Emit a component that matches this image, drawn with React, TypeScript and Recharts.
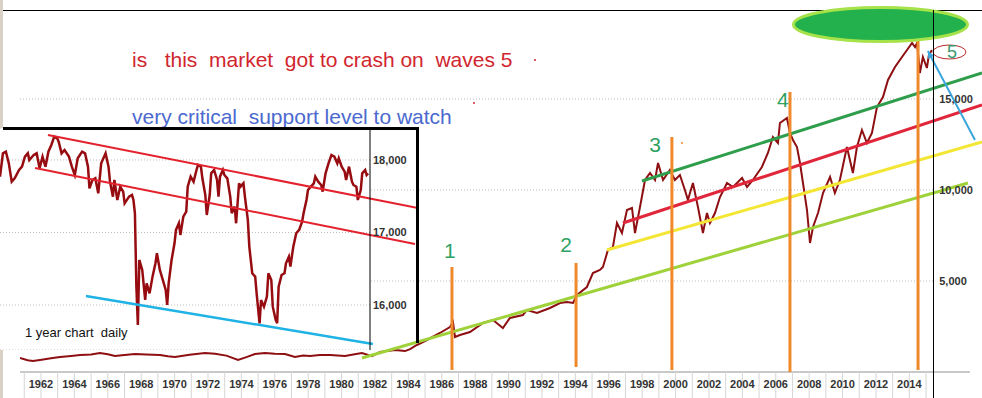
import { LineChart, Line, XAxis, YAxis, ReferenceLine, ReferenceDot, CartesianGrid } from 'recharts'

// Dow Jones, long-term view (year, index level)
const mainYears = [
  1960.74, 1961.2, 1961.52, 1961.94, 1962.6, 1963.14, 1963.8, 1964.34, 1965.0, 1965.53,
  1966.0, 1966.43, 1967.0, 1967.63, 1968.3, 1969.13, 1969.6, 1970.02, 1970.9, 1971.82,
  1972.42, 1973.1, 1973.8, 1974.3, 1974.81, 1975.41, 1976.0, 1976.61, 1977.21, 1977.7,
  1978.11, 1978.7, 1979.31, 1980.2, 1980.7, 1981.22, 1981.82, 1982.3, 1983.2, 1983.8, 1984.1,
  1984.51, 1985.11, 1985.89, 1986.49, 1986.67, 1986.79, 1987.09, 1987.69, 1988.47, 1989.07,
  1989.66, 1990.08, 1990.86, 1991.1, 1991.7, 1992.48, 1993.08, 1993.5, 1993.86, 1994.1,
  1994.69, 1995.05, 1995.47, 1995.65, 1995.95, 1996.25, 1996.49, 1996.79, 1997.09, 1997.39,
  1997.57, 1997.87, 1998.17, 1998.47, 1998.77, 1998.95, 1999.25, 1999.66, 1999.96, 2000.26,
  2000.56, 2000.74, 2001.04, 2001.34, 2001.64, 2001.88, 2002.06, 2002.36, 2002.66, 2003.08,
  2003.44, 2003.98, 2004.28, 2004.63, 2005.17, 2005.53, 2005.83, 2006.13, 2006.25, 2006.67,
  2006.85, 2007.03, 2007.27, 2007.45, 2007.63, 2007.87, 2008.05, 2008.23, 2008.53, 2008.83,
  2009.25, 2009.54, 2009.84, 2010.26, 2010.62, 2010.86, 2011.16, 2011.46, 2011.76, 2012.06,
  2012.42, 2012.72, 2013.14, 2013.56, 2013.86, 2014.16, 2014.34, 2014.46, 2014.63, 2014.81,
  2015.05, 2015.17, 2015.35,
]
const mainValues = [
  770, 650, 600, 660, 760, 820, 880, 930, 960, 1040,
  980, 880, 940, 990, 960, 930, 860, 820, 950, 1040,
  1000, 900, 660, 820, 990, 1040, 1000, 990, 820, 900,
  880, 930, 930, 880, 960, 1040, 870, 1100, 1210, 1150, 1260,
  1484, 1758, 2143, 2473, 2747, 1923, 2033, 2198, 2692, 2857,
  2418, 2967, 3132, 3407, 3242, 3516, 3791, 3846, 3791, 4231,
  4670, 5440, 5604, 5769, 6703, 6868, 8187, 7637, 8901, 9011,
  7637, 9066, 10549, 10934, 10549, 11484, 10549, 11099, 10549, 10824,
  10000, 9451, 10385, 9066, 7637, 8736, 8187, 8736, 9615, 10385,
  10165, 10659, 10165, 10549, 11264, 12033, 12912, 12582, 13681, 13956,
  13132, 12747, 12363, 11484, 10385, 8901, 7088, 7967, 8736, 9835,
  10714, 9835, 10549, 12363, 10934, 12363, 13297, 12582, 13132, 14560,
  15110, 16044, 16758, 17308, 17692, 18077, 17857, 18077, 16429, 17308,
  16703, 17418, 17692,
]

// inset: one year of daily closes (trading day, level)
const insetDays = [
  0, 2, 4, 6, 8, 10, 13, 15, 17, 19, 20, 23, 25, 27, 29, 31, 33, 35, 37, 39,
  40, 42, 44, 47, 49, 51, 53, 56, 58, 60, 61, 63, 65, 67, 69, 72, 74, 75, 77, 78,
  80, 82, 84, 85, 88, 90, 91, 92, 93, 94, 95, 97, 99, 100, 102, 104, 106, 107, 109, 111,
  113, 114, 115, 117, 119, 120, 122, 123, 125, 127, 128, 130, 132, 134, 135, 137, 138, 140, 141, 143,
  144, 146, 148, 149, 150, 152, 153, 155, 157, 158, 160, 161, 163, 164, 166, 167, 169, 170, 172, 174,
  175, 177, 178, 180, 182, 183, 185, 186, 188, 189, 190, 192, 194, 195, 197, 198, 200, 201, 202, 204,
  206, 207, 209, 210, 212, 214, 215, 217, 219, 220, 222, 224, 226, 228, 230, 231, 233, 235, 236, 238,
  240, 241, 243, 244, 246, 247, 249, 250, 251,
]
const insetValues = [
  17770, 18092, 18115, 17954, 17701, 17747, 17862, 17908, 18046, 18092,
  18000, 18069, 18092, 17885, 18046, 17908, 18115, 18207, 18322, 18299,
  18253, 18092, 18138, 18046, 17908, 17793, 18023, 18115, 18092, 17908,
  17609, 17724, 17747, 17540, 17954, 18092, 17908, 17701, 17494, 17724,
  17448, 17632, 17563, 17402, 17494, 17517, 17448, 17265, 16253, 15724,
  16621, 16483, 16069, 16299, 16161, 16391, 16575, 16713, 16483, 16345,
  16207, 16000, 16299, 16621, 16851, 17035, 17127, 16966, 17219, 17287,
  17632, 17770, 17701, 17862, 17931, 17908, 17747, 17517, 17241, 17517,
  17816, 17862, 17724, 17494, 17770, 17862, 17793, 17747, 17494, 17265,
  17357, 17127, 17678, 17632, 17678, 17494, 17173, 16805, 16437, 16391,
  16161, 15747, 16069, 15977, 16115, 16437, 16345, 15977, 15793, 15747,
  16253, 16414, 16437, 16575, 16667, 16529, 16805, 16897, 16989, 17035,
  17150, 17265, 17448, 17586, 17632, 17678, 17770, 17701, 17655, 17563,
  17816, 17954, 18069, 18046, 17954, 18023, 17908, 17839, 17724, 17908,
  17701, 17655, 17632, 17448, 17586, 17816, 17862, 17793, 17816,
]

const yearTicks = [
  1961, 1962, 1963, 1964, 1965, 1966, 1967, 1968, 1969, 1970, 1971, 1972, 1973, 1974,
  1975, 1976, 1977, 1978, 1979, 1980, 1981, 1982, 1983, 1984, 1985, 1986, 1987, 1988,
  1989, 1990, 1991, 1992, 1993, 1994, 1995, 1996, 1997, 1998, 1999, 2000, 2001, 2002,
  2003, 2004, 2005, 2006, 2007, 2008, 2009, 2010, 2011, 2012, 2013, 2014, 2015,
]
const priceTicks = [5000, 10000, 15000]
const insetTicks = [16000, 17000, 18000]

// wave annotations
const waveNames = ['1', '2', '3', '4']
const waveLabelYears = [1986.49, 1993.44, 1998.77, 2006.43]
const waveLabelValues = [6703, 6978, 12527, 14945]
const markerYears = [1986.61, 1994.04, 1999.78, 2006.85, 2014.52]
const markerTops = [5769, 5989, 12912, 15385, 18681]
const markerBottoms = [110, 275, 110, 0, 110]

// channel lines: [year1, value1, year2, value2]
const channels = [
  [1981.22, 769, 2017.51, 10385],
  [1995.89, 6703, 2018.35, 12637],
  [1996.85, 8187, 2018.35, 14670],
  [1997.99, 10495, 2018.35, 16429],
]
const channelColors = ['#9fd23a', '#f3e634', '#e0263a', '#2f9e4c']
const arrowLine = [2017.93, 12747, 2015.11, 17637]

// inset channel lines: [day1, value1, day2, value2]
const insetChannels = [
  [32.7, 18345, 285, 17338],
  [23.9, 17890, 283, 16841],
]
const insetSupport = [58.6, 16124, 254.3, 15462]

const mainData = mainYears.map((year, i) => ({ year, value: mainValues[i] }))
const insetData = insetDays.map((day, i) => ({ day, value: insetValues[i] }))

const FONT = '"Liberation Sans", Arial, sans-serif'
const X_DOMAIN: [number, number] = [1960.743, 2018.35]
const AXIS_END = 2017.63
const RIGHT_AXIS = 2015.55

function YearTick(props: any) {
  const { x, y, payload } = props
  const yr = payload.value
  return (
    <g>
      <line x1={x} x2={x} y1={y} y2={y + 26} stroke="#d6d6d6" />
      {yr % 2 === 0 && (
        <text x={x} y={y + 16} textAnchor="middle" fontSize={11} fontWeight="bold" fill="#333" fontFamily={FONT}>
          {yr}
        </text>
      )}
    </g>
  )
}

function ArrowShape(p: any) {
  const { x1, y1, x2, y2 } = p
  const a = Math.atan2(y2 - y1, x2 - x1)
  const len = 8
  const pA = [x2 - len * Math.cos(a - 0.45), y2 - len * Math.sin(a - 0.45)]
  const pB = [x2 - len * Math.cos(a + 0.45), y2 - len * Math.sin(a + 0.45)]
  return (
    <g>
      <line x1={x1} y1={y1} x2={x2} y2={y2} stroke="#3aa6dc" strokeWidth={2} />
      <polygon points={`${x2},${y2} ${pA[0]},${pA[1]} ${pB[0]},${pB[1]}`} fill="#3aa6dc" />
    </g>
  )
}

export default function App() {
  return (
    <div style={{ position: 'fixed', left: 0, top: 0, width: 982, height: 398, background: '#fff', overflow: 'hidden', fontFamily: FONT }}>
      <div style={{ position: 'absolute', left: 0, top: 0, width: 3, height: 398, background: '#d9d1c4' }} />
      <div style={{ position: 'absolute', left: 3, top: 10, width: 979, height: 1, background: '#000' }} />

      <div style={{ position: 'absolute', left: 0, top: 0 }}>
        <LineChart width={982} height={398} data={mainData} margin={{ top: 10, right: 0, left: 20, bottom: 0 }}>
          <XAxis
            dataKey="year"
            type="number"
            domain={X_DOMAIN}
            ticks={yearTicks}
            interval={0}
            axisLine={false}
            tickLine={false}
            tickSize={0}
            tickMargin={0}
            height={26}
            tick={<YearTick />}
            allowDataOverflow
          />
          <YAxis hide domain={[0, 19890]} allowDataOverflow />
          {priceTicks.map(v => (
            <ReferenceLine
              key={v}
              segment={[{ x: X_DOMAIN[0], y: v }, { x: RIGHT_AXIS, y: v }]}
              stroke="#bdbdbd"
              strokeDasharray="1 2"
              label={{ value: v.toLocaleString('en-US'), position: 'right', offset: 4, fontSize: 11, fontWeight: 'bold', fill: '#333' }}
            />
          ))}
          <ReferenceLine segment={[{ x: X_DOMAIN[0], y: 0 }, { x: AXIS_END, y: 0 }]} stroke="#c9c9c9" strokeWidth={2} />
          <Line dataKey="value" type="linear" stroke="#8e0f12" strokeWidth={2} dot={false} isAnimationActive={false} />
          {channels.map((c, i) => (
            <ReferenceLine key={i} segment={[{ x: c[0], y: c[1] }, { x: c[2], y: c[3] }]} stroke={channelColors[i]} strokeWidth={3} ifOverflow="visible" />
          ))}
          {markerYears.map((yr, i) => (
            <ReferenceLine key={yr} segment={[{ x: yr, y: markerTops[i] }, { x: yr, y: markerBottoms[i] }]} stroke="#f0892b" strokeWidth={3} />
          ))}
          {waveNames.map((n, i) => (
            <ReferenceDot
              key={n}
              x={waveLabelYears[i]}
              y={waveLabelValues[i]}
              r={0}
              shape={(p: any) => (
                <text x={p.cx} y={p.cy} textAnchor="middle" dominantBaseline="central" fontSize={21} fill="#2ea264" fontFamily={FONT}>{n}</text>
              )}
            />
          ))}
          <ReferenceDot
            x={2012.27}
            y={19093}
            r={0}
            shape={(p: any) => <ellipse cx={p.cx} cy={p.cy} rx={87} ry={17} fill="#22b14c" stroke="#a6e24a" strokeWidth={3} />}
          />
          <ReferenceDot
            x={2016.4}
            y={17582}
            r={0}
            shape={(p: any) => (
              <g>
                <ellipse cx={p.cx} cy={p.cy} rx={16.5} ry={7} fill="none" stroke="#b82a2a" strokeWidth={1} />
                <text x={p.cx + 2.5} y={p.cy} textAnchor="middle" dominantBaseline="central" fontSize={18} fill="#3a9a70" fontFamily={FONT}>5</text>
              </g>
            )}
          />
          <ReferenceLine segment={[{ x: arrowLine[0], y: arrowLine[1] }, { x: arrowLine[2], y: arrowLine[3] }]} ifOverflow="visible" shape={ArrowShape} />
        </LineChart>
      </div>

      <div style={{ position: 'absolute', left: 933, top: 10, width: 1, height: 388, background: '#000' }} />

      <svg width={982} height={398} style={{ position: 'absolute', left: 0, top: 0, pointerEvents: 'none' }}>
        <text x={132} y={66.5} fontSize={21} fill="#d1262e" fontFamily={FONT} style={{ whiteSpace: 'pre' }}>
          {'is   this  market  got to crash on  waves 5'}
        </text>
        <text x={132} y={124} fontSize={21} fill="#4b69cf" fontFamily={FONT} style={{ whiteSpace: 'pre' }}>
          {'very critical  support level to watch'}
        </text>
        <circle cx={535} cy={60} r={1} fill="#d1262e" />
        <circle cx={474} cy={103} r={1} fill="#d1262e" />
        <circle cx={682} cy={143} r={1} fill="#f0892b" />
      </svg>

      <div style={{ position: 'absolute', left: 0, top: 128, width: 370, height: 222, background: '#fff' }} />
      <div style={{ position: 'absolute', left: 0, top: 128 }}>
        <LineChart width={418} height={222} data={insetData} margin={{ top: 0, right: 0, left: 0, bottom: 0 }}>
          <CartesianGrid vertical={false} stroke="#bdbdbd" strokeDasharray="1 2" />
          <XAxis dataKey="day" type="number" domain={[0, 252.3]} hide allowDataOverflow />
          <YAxis
            orientation="right"
            width={48}
            domain={[15379, 18441]}
            ticks={insetTicks}
            axisLine={{ stroke: '#000' }}
            tickLine={false}
            tickSize={0}
            tickMargin={3}
            tick={{ fontSize: 11, fontWeight: 'bold', fill: '#333', textAnchor: 'start' }}
            tickFormatter={(v: number) => v.toLocaleString('en-US')}
            allowDataOverflow
          />
          <Line dataKey="value" type="linear" stroke="#960c10" strokeWidth={2.5} dot={false} isAnimationActive={false} />
          {insetChannels.map((c, i) => (
            <ReferenceLine key={i} segment={[{ x: c[0], y: c[1] }, { x: c[2], y: c[3] }]} stroke="#e3222e" strokeWidth={2} ifOverflow="visible" />
          ))}
          <ReferenceLine segment={[{ x: insetSupport[0], y: insetSupport[1] }, { x: insetSupport[2], y: insetSupport[3] }]} stroke="#1fb2e4" strokeWidth={2.5} ifOverflow="visible" />
        </LineChart>
      </div>
      <div style={{ position: 'absolute', left: 3, top: 127, width: 416, height: 3, background: '#000' }} />
      <div style={{ position: 'absolute', left: 416, top: 127, width: 3, height: 216, background: '#000' }} />
      <div style={{ position: 'absolute', left: 25, top: 325, fontSize: 13, color: '#111', whiteSpace: 'pre', lineHeight: '15px' }}>
        {'1 year chart  daily'}
      </div>
    </div>
  )
}
